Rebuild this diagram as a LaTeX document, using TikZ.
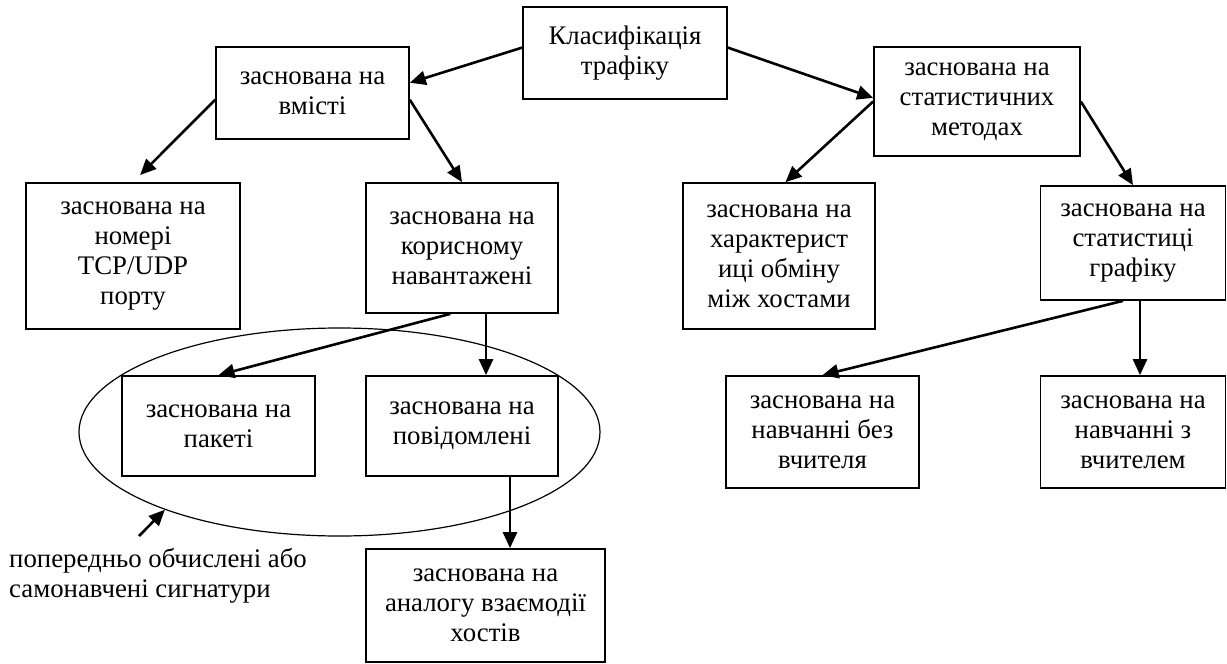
\documentclass[tikz,border=0pt]{standalone}
\usepackage{fontspec}
\setmainfont{Liberation Serif}
\usepackage{tikz}
\usetikzlibrary{shapes.geometric}
\usetikzlibrary{arrows.meta}
\def\boxLine{(1.7pt)}
\def\arrLine{(2.6pt)}
\def\fSize{\fontsize{26.8}{30}\selectfont}
\tikzset{blk/.style={draw=black,line width=\boxLine,align=center,inner sep=0,font=\fSize}}
\tikzset{arr/.style={black,line width=\arrLine,-{Triangle[length=16pt,width=14pt]}}}
\tikzset{oval/.style={draw=black,line width=1.2pt,ellipse,inner sep=0}}
\newcommand{\blok}[5]{\node[blk,minimum width=#3,minimum height=#4] (#1) at #2 {#5};}

\begin{document}
\begin{tikzpicture}[x=1pt,y=-1pt]\useasboundingbox (0,0) rectangle (1227,664);
\node[oval,minimum width=521,minimum height=208] (sig) at (339.5,432) {};
\blok{root}{(625,53)}{204}{92}{Класифікація\\трафіку}
\blok{vmist}{(312.5,93)}{193}{92}{заснована на\\вмісті}
\blok{stat}{(977,101.5)}{206}{109}{заснована на\\статистичних\\методах}
\blok{port}{(133,256)}{214}{146}{заснована на\\номері\\TCP/UDP\\порту}
\blok{koris}{(462,248)}{192}{130}{заснована на\\корисному\\навантажені}
\blok{harakt}{(779,256)}{192}{146}{заснована на\\характерист\\иці обміну\\між хостами}
\blok{statgr}{(1133,243)}{185}{114}{заснована на\\статистиці\\графіку}
\blok{paket}{(218.5,426)}{193}{100}{заснована на\\пакеті}
\blok{povid}{(462,426)}{192}{100}{заснована на\\повідомлені}
\blok{analog}{(485.5,605.5)}{239}{113}{заснована на\\аналогу взаємодії\\хостів}
\blok{bez}{(822.5,432)}{193}{112}{заснована на\\навчанні без\\вчителя}
\blok{zvch}{(1133,432)}{185}{112}{заснована на\\навчанні з\\вчителем}
\node[font=\fSize,align=left,anchor=north west,inner sep=0] (note) at (9,548) {попередньо обчислені або\\самонавчені сигнатури};
\coordinate (ptr) at (139,536);
\draw[arr](root.177)--(vmist.6);\draw[arr](root.3)--(stat.178);
\draw[arr,shorten >=10pt](vmist.184)--(port.north);\draw[arr](vmist.-4)--(koris.north);
\draw[arr](stat.west)--(harakt.85);\draw[arr](stat.east)--(statgr.north);
\draw[arr](koris.260)--(paket.north);
\draw[arr]([xshift=24]koris.south)--([xshift=24]koris.south |- povid.north);
\draw[arr]([xshift=48]povid.south)--([xshift=48]povid.south |- analog.north);
\draw[arr]([xshift=-10]statgr.south)--(bez.north);
\draw[arr]([xshift=7]statgr.south)--([xshift=7]zvch.north);
\draw[arr](ptr)--(sig.204);
\end{tikzpicture}
\end{document}
